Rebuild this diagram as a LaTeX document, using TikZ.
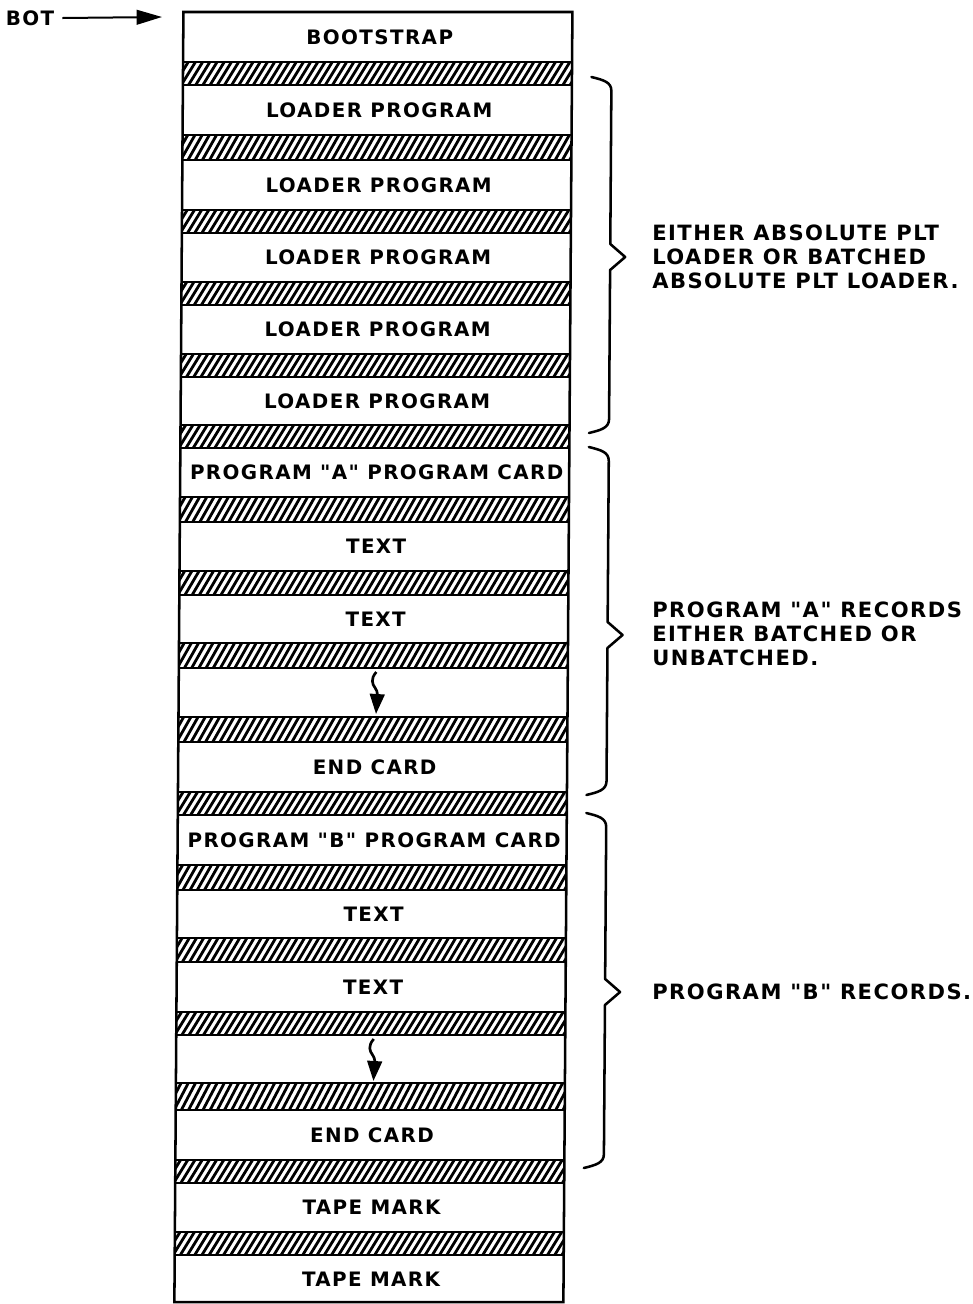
\documentclass[tikz,border=0pt]{standalone}
\usepackage{fontspec}
\newfontfamily\lfont{DejaVu Sans}[LetterSpace=7]
\usetikzlibrary{arrows.meta}
\tikzset{
  lbl/.style={font=\lfont\bfseries\fontsize{14.9}{17}\selectfont, inner sep=0pt},
  rtext/.style={font=\lfont\bfseries\fontsize{15.8}{18}\selectfont, inner sep=0pt, align=left, anchor=west},
  hatchline/.style={line width=2.1pt},
  sepline/.style={line width=1.8pt},
  border/.style={line width=1.9pt},
  bracepath/.style={line width=1.9pt, line join=round, line cap=round},
  squig/.style={line width=2pt, -{Triangle[length=15pt,width=11pt]}},
  botarrow/.style={line width=1.5pt, -{Triangle[length=19pt,width=11pt]}},
}
\def\colL{183.5}
\def\colR{572.5}
\def\bv{612}
\newcommand{\hband}[2]{%
  \begin{scope}
    \clip (\colL,#1) rectangle (\colR,#2);
    \foreach \k in {0,...,57} \draw[hatchline] ({\colL-16+\k*7.2},#2) -- ++(14,{#1-#2});
  \end{scope}
  \draw[sepline] (\colL,#1) -- (\colR,#1) (\colL,#2) -- (\colR,#2);}
\newcommand{\mybrace}[3]{%
  \draw[bracepath] ({\bv-20},#1) .. controls ({\bv-8},{#1+3}) and (\bv,{#1+5}) .. (\bv,{#1+14})
    -- (\bv,{#2-13}) -- ({\bv+15},#2) -- (\bv,{#2+13}) -- (\bv,{#3-14})
    .. controls (\bv,{#3-5}) and ({\bv-8},{#3-3}) .. ({\bv-20},#3);}
\begin{document}
\begin{tikzpicture}[x=0.75pt,y=-0.75pt]
\useasboundingbox[fill=white] (0,0) rectangle (972,1304);
% BOT arrow
\node[lbl] (bot) at (30,18) {BOT};
\coordinate (bottip) at (162,17);
\draw[botarrow] ([xshift=6pt]bot.east) -- (bottip);
\begin{scope}[xslant=0.007]
  \foreach \a/\b in {62/85,135/160,210/233,282/305,354/377,425/448,497/522,571/595,643/668,717/742,792/815,865/890,938/962,1012/1035,1083/1110,1160/1183,1232/1255}
    {\hband{\a}{\b}}
  \draw[border] (\colL,12) rectangle (\colR,1302);
  \node[lbl] (w1) at (380,37) {BOOTSTRAP};
  \node[lbl] (w2) at (380,110) {LOADER PROGRAM};
  \node[lbl] (w3) at (380,185) {LOADER PROGRAM};
  \node[lbl] (w4) at (380,257.5) {LOADER PROGRAM};
  \node[lbl] (w5) at (380,329.5) {LOADER PROGRAM};
  \node[lbl] (w6) at (380,401) {LOADER PROGRAM};
  \node[lbl] (w7) at (380,472.5) {PROGRAM "A" PROGRAM CARD};
  \node[lbl] (w8) at (380,546.5) {TEXT};
  \node[lbl] (w9) at (380,619) {TEXT};
  \node[lbl] (w11) at (380,767) {END CARD};
  \node[lbl] (w12) at (380,840) {PROGRAM "B" PROGRAM CARD};
  \node[lbl] (w13) at (380,914) {TEXT};
  \node[lbl] (w14) at (380,987) {TEXT};
  \node[lbl] (w16) at (380,1135) {END CARD};
  \node[lbl] (w17) at (380,1207.5) {TAPE MARK};
  \node[lbl] (w18) at (380,1279) {TAPE MARK};
  % squiggly arrows
  \coordinate (sqas) at (381,672);
  \coordinate (sqae) at (381,714);
  \draw[squig] (sqas) .. controls (375,679) and (377,684) .. (380,688) .. controls (383,692) and (382,696) .. (sqae);
  \coordinate (sqbs) at (381,1039);
  \coordinate (sqbe) at (381,1081);
  \draw[squig] (sqbs) .. controls (375,1046) and (377,1051) .. (380,1055) .. controls (383,1059) and (382,1063) .. (sqbe);
  % braces
  \mybrace{77}{257}{433}
  \mybrace{447}{635}{795}
  \mybrace{813}{992}{1168}
\end{scope}
\node[rtext] (ra) at (652,257) {EITHER ABSOLUTE PLT\\LOADER OR BATCHED\\ABSOLUTE PLT LOADER.};
\node[rtext] (rb) at (652,634) {PROGRAM "A" RECORDS\\EITHER BATCHED OR\\UNBATCHED.};
\node[rtext] (rc) at (652,992) {PROGRAM "B" RECORDS.};
\end{tikzpicture}
\end{document}
